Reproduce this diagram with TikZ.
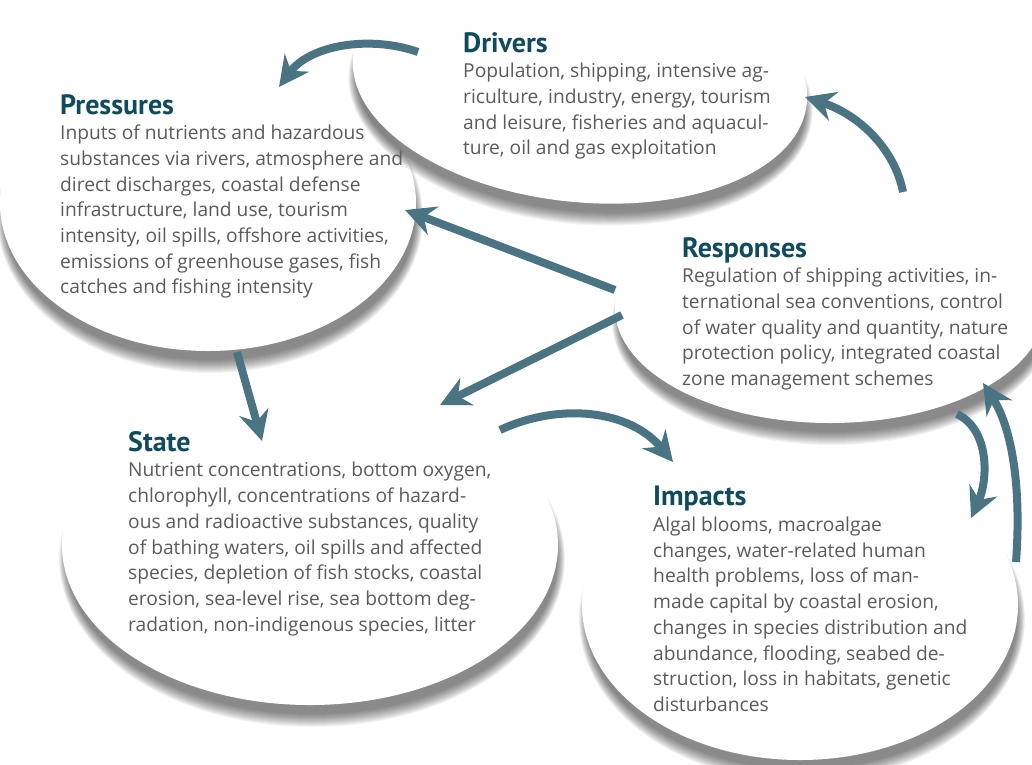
\documentclass[tikz,border=0pt]{standalone}
\usepackage{fontspec}
\setmainfont{Open Sans}
\newfontfamily\ttlfamily{PT Sans}
\usetikzlibrary{arrows.meta}
\definecolor{arrowc}{HTML}{4A7483}
\definecolor{titlec}{HTML}{0F4B5D}
\definecolor{bodyc}{HTML}{5A5B5D}
\tikzset{
  flow/.style={line width=8pt, draw=arrowc, -{Stealth[length=30pt,width=30pt,inset=10pt]}},
  txt/.style={anchor=north west, inner sep=0pt, align=left, text=bodyc, font=\fontsize{19.2}{25.7}\selectfont},
  shade layer/.style={fill=black, fill opacity=0.042},
}
\newcommand\ttl[1]{{\color{titlec}\ttlfamily\fontsize{28}{25.7}\selectfont\bfseries #1}}
\newcommand\bubble[5]{%
  \begin{scope}[shift={(#1,#2)}, rotate=#5]
    \foreach \k in {0,...,13}{
      \fill[shade layer] (2,14) ellipse [x radius={#3pt+5pt-0.6pt*\k}, y radius={#4pt+8pt-1pt*\k}];
    }
    \fill[white] (0,0) ellipse [x radius=#3pt, y radius=#4pt];
  \end{scope}}
\begin{document}
\begin{tikzpicture}[x=1pt, y=-1pt]
\useasboundingbox (0,0) rectangle (1032,764);
\clip (0,0) rectangle (1032,764);
% bubbles
\bubble{800}{605}{218}{155}{0}
\bubble{310}{545}{248}{160}{0}
\bubble{830}{308}{215}{115}{0}
\bubble{208}{203}{208}{148}{0}
\bubble{580}{80}{228}{122}{-6}
% texts
\node[txt] (drv) at (463,32) {\ttl{Drivers}\\
Population, shipping, intensive ag-\\
riculture, industry, energy, tourism\\
and leisure, fisheries and aquacul-\\
ture, oil and gas exploitation};
\node[txt] (prs) at (60,94) {\ttl{Pressures}\\
Inputs of nutrients and hazardous\\
substances via rivers, atmosphere and\\
direct discharges, coastal defense\\
infrastructure, land use, tourism\\
intensity, oil spills, offshore activities,\\
emissions of greenhouse gases, fish\\
catches and fishing intensity};
\node[txt] (rsp) at (682,237) {\ttl{Responses}\\
Regulation of shipping activities, in-\\
ternational sea conventions, control\\
of water quality and quantity, nature\\
protection policy, integrated coastal\\
zone management schemes};
\node[txt] (stt) at (128,431) {\ttl{State}\\
Nutrient concentrations, bottom oxygen,\\
chlorophyll, concentrations of hazard-\\
ous and radioactive substances, quality\\
of bathing waters, oil spills and affected\\
species, depletion of fish stocks, coastal\\
erosion, sea-level rise, sea bottom deg-\\
radation, non-indigenous species, litter};
\node[txt] (imp) at (653,486) {\ttl{Impacts}\\
Algal blooms, macroalgae\\
changes, water-related human\\
health problems, loss of man-\\
made capital by coastal erosion,\\
changes in species distribution and\\
abundance, flooding, seabed de-\\
struction, loss in habitats, genetic\\
disturbances};
% arrow end points
\coordinate (dA) at (418,52);  \coordinate (pA) at (279,87);
\coordinate (rB) at (903,192); \coordinate (dB) at (805,97);
\coordinate (rC) at (615,290); \coordinate (pC) at (405,210);
\coordinate (rD) at (622,315); \coordinate (sD) at (440,405);
\coordinate (pE) at (237,352); \coordinate (sE) at (262,441);
\coordinate (sF) at (500,430); \coordinate (iF) at (673,462);
\coordinate (rG) at (957,414); \coordinate (iG) at (971,518);
\coordinate (iH) at (1016,562); \coordinate (rH) at (983,383);
% arrows
\draw[flow] (dA) .. controls (370,35) and (310,45) .. (pA);
\draw[flow] (rB) .. controls (895,150) and (860,115) .. (dB);
\draw[flow] (rC) -- (pC);
\draw[flow] (rD) -- (sD);
\draw[flow] (pE) -- (sE);
\draw[flow] (sF) .. controls (560,402) and (630,410) .. (iF);
\draw[flow] (rG) .. controls (990,430) and (988,480) .. (iG);
\draw[flow] (iH) .. controls (1022,480) and (1010,425) .. (rH);
\end{tikzpicture}
\end{document}
